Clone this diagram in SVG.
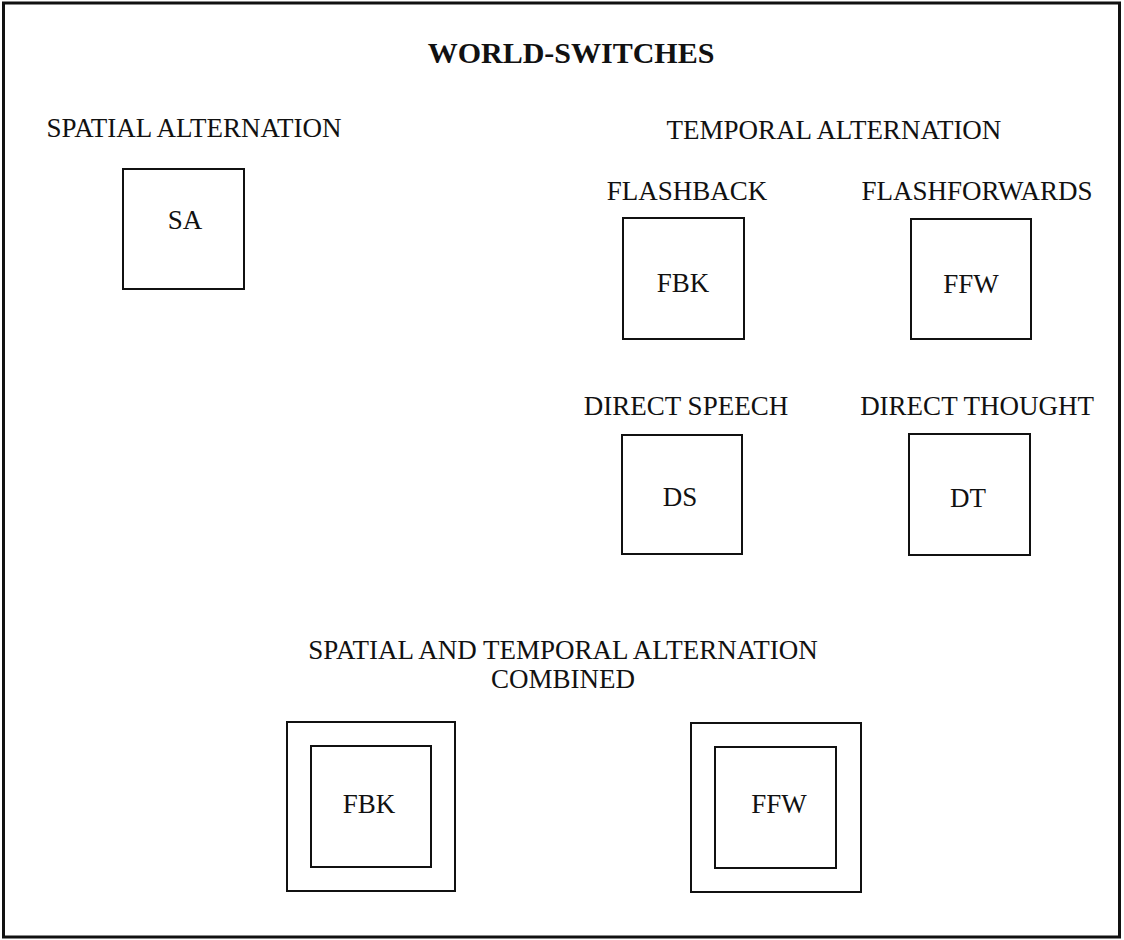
<svg xmlns="http://www.w3.org/2000/svg" width="1124" height="940" viewBox="0 0 1124 940">
<style>
.t{font-family:"Liberation Serif","Times New Roman",serif;font-size:27px;fill:#111;text-anchor:middle}
.h{font-family:"Liberation Serif","Times New Roman",serif;font-size:30px;font-weight:bold;fill:#111;text-anchor:middle}
.b{fill:none;stroke:#111;stroke-width:2}
</style>
<rect x="0" y="0" width="1124" height="940" fill="#fff"/>
<rect x="3.5" y="3" width="1116" height="934" fill="none" stroke="#111" stroke-width="3"/>
<text class="h" x="571" y="63">WORLD-SWITCHES</text>
<text class="t" x="194" y="137">SPATIAL ALTERNATION</text>
<text class="t" x="834" y="139">TEMPORAL ALTERNATION</text>
<text class="t" x="687" y="200">FLASHBACK</text>
<text class="t" x="977" y="200">FLASHFORWARDS</text>
<text class="t" x="686" y="415">DIRECT SPEECH</text>
<text class="t" x="977" y="415">DIRECT THOUGHT</text>
<text class="t" x="563" y="659">SPATIAL AND TEMPORAL ALTERNATION</text>
<text class="t" x="563" y="688">COMBINED</text>
<g id="node-sa"><rect class="b" x="123" y="169" width="121" height="120"/><text class="t" x="185" y="229">SA</text></g>
<g id="node-fbk"><rect class="b" x="623" y="218" width="121" height="121"/><text class="t" x="683" y="292">FBK</text></g>
<g id="node-ffw"><rect class="b" x="911" y="219" width="120" height="120"/><text class="t" x="971" y="293">FFW</text></g>
<g id="node-ds"><rect class="b" x="622" y="435" width="120" height="119"/><text class="t" x="680" y="506">DS</text></g>
<g id="node-dt"><rect class="b" x="909" y="434" width="121" height="121"/><text class="t" x="968" y="507">DT</text></g>
<g id="node-combined-fbk"><rect class="b" x="287" y="722" width="168" height="169"/><rect class="b" x="311" y="746" width="120" height="121"/><text class="t" x="369" y="813">FBK</text></g>
<g id="node-combined-ffw"><rect class="b" x="691" y="723" width="170" height="169"/><rect class="b" x="715" y="747" width="121" height="121"/><text class="t" x="779" y="813">FFW</text></g>
<g id="connectors"></g>
</svg>
